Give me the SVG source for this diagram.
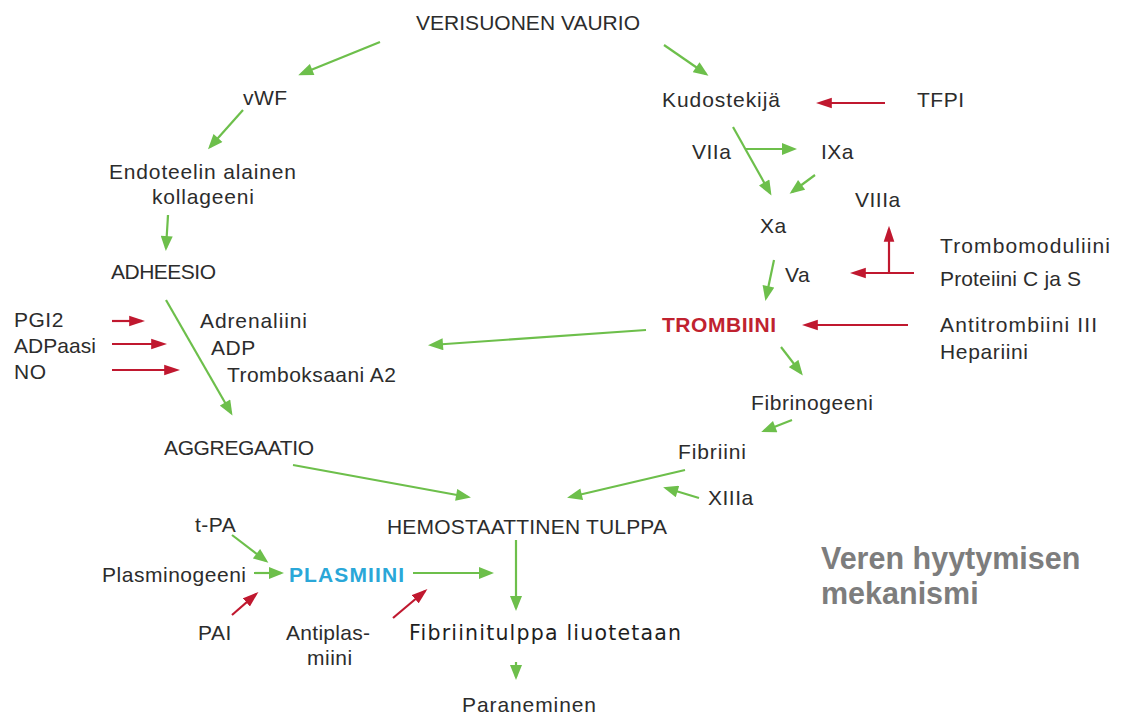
<svg xmlns="http://www.w3.org/2000/svg" width="1122" height="717" viewBox="0 0 1122 717">
<style>
  .t{font-family:"Liberation Sans",Arial,sans-serif;font-size:21px;fill:#2c2c2c}
  .s{letter-spacing:0.5px}
  .v{font-family:"DejaVu Sans",Verdana,sans-serif;font-size:20.5px;fill:#1e1e1e}
  .red{fill:#c0222f;font-weight:bold}
  .blue{fill:#2aa7d8;font-weight:bold}
  .title{font-family:"Liberation Sans",Arial,sans-serif;font-size:30.5px;font-weight:bold;fill:#7d7d7d}
  .g{stroke:#6dbf4b;stroke-width:2.2;fill:none;marker-end:url(#ag)}
  .r{stroke:#c0182f;stroke-width:2.2;fill:none;marker-end:url(#ar)}
</style>
<defs>
  <marker id="ag" markerUnits="userSpaceOnUse" markerWidth="16" markerHeight="12" refX="12" refY="6" orient="auto" viewBox="0 0 15 12">
    <path d="M0,0 L15,6 L0,12 z" fill="#6dbf4b"/>
  </marker>
  <marker id="ar" markerUnits="userSpaceOnUse" markerWidth="16" markerHeight="12" refX="12" refY="5" orient="auto" viewBox="0 0 15 10">
    <path d="M0,0 L15,5 L0,10 z" fill="#c0182f"/>
  </marker>
</defs>
<rect width="1122" height="717" fill="#fff"/>

<g id="connectors">
  <line class="g" x1="380" y1="42" x2="301" y2="74"/>
  <line class="g" x1="664" y1="45" x2="706" y2="74"/>
  <line class="g" x1="243" y1="110" x2="210" y2="147"/>
  <line class="g" x1="168" y1="215" x2="166" y2="248"/>
  <line class="g" x1="733" y1="127" x2="770" y2="193"/>
  <line class="g" x1="746" y1="149" x2="794" y2="149"/>
  <line class="g" x1="815" y1="175" x2="792" y2="192"/>
  <line class="g" x1="774" y1="260" x2="766" y2="298"/>
  <line class="g" x1="646" y1="330" x2="431" y2="345"/>
  <line class="g" x1="781" y1="347" x2="801" y2="373"/>
  <line class="g" x1="792" y1="420" x2="764" y2="431"/>
  <line class="g" x1="166" y1="300" x2="231" y2="413"/>
  <line class="g" x1="293" y1="465" x2="468" y2="497"/>
  <line class="g" x1="685" y1="470" x2="570" y2="497"/>
  <line class="g" x1="699" y1="498" x2="666" y2="488"/>
  <line class="g" x1="232" y1="535" x2="266" y2="561"/>
  <line class="g" x1="254" y1="573" x2="281" y2="573"/>
  <line class="g" x1="413" y1="573" x2="491" y2="573"/>
  <line class="g" x1="516" y1="540" x2="516" y2="608"/>
  <line class="g" x1="516" y1="662" x2="516" y2="677"/>
  <line class="r" x1="885" y1="103" x2="819" y2="103"/>
  <line class="r" x1="889" y1="273" x2="889" y2="229"/>
  <line class="r" x1="914" y1="273" x2="853" y2="273"/>
  <line class="r" x1="908" y1="325" x2="805" y2="325"/>
  <line class="r" x1="112" y1="321" x2="142" y2="321"/>
  <line class="r" x1="112" y1="344" x2="164" y2="344"/>
  <line class="r" x1="112" y1="370" x2="177" y2="370"/>
  <line class="r" x1="232" y1="615" x2="256" y2="594"/>
  <line class="r" x1="393" y1="618" x2="425" y2="591"/>
</g>

<g id="n-vaurio"><text class="t" x="416" y="30" textLength="224" lengthAdjust="spacing">VERISUONEN VAURIO</text></g>
<g id="n-vwf"><text class="t s" x="243" y="105">vWF</text></g>
<g id="n-kudostekija"><text class="t" x="662" y="107" textLength="118" lengthAdjust="spacing">Kudostekijä</text></g>
<g id="n-tfpi"><text class="t s" x="917" y="107">TFPI</text></g>
<g id="n-endoteeli">
  <text class="t" x="109" y="179" textLength="187" lengthAdjust="spacing">Endoteelin alainen</text>
  <text class="t" x="152" y="204" textLength="102" lengthAdjust="spacing">kollageeni</text>
</g>
<g id="n-viia"><text class="t s" x="692" y="159">VIIa</text></g>
<g id="n-ixa"><text class="t s" x="821" y="159">IXa</text></g>
<g id="n-viiia"><text class="t s" x="855" y="207">VIIIa</text></g>
<g id="n-xa"><text class="t s" x="760" y="233">Xa</text></g>
<g id="n-trombomoduliini">
  <text class="t" x="940" y="253" textLength="170" lengthAdjust="spacing">Trombomoduliini</text>
  <text class="t" x="940" y="286" textLength="141" lengthAdjust="spacing">Proteiini C ja S</text>
</g>
<g id="n-va"><text class="t s" x="785" y="282">Va</text></g>
<g id="n-adheesio"><text class="t" x="111" y="279" textLength="105" lengthAdjust="spacing">ADHEESIO</text></g>
<g id="n-trombiini"><text class="t red" x="662" y="332" textLength="114" lengthAdjust="spacing">TROMBIINI</text></g>
<g id="n-antitrombiini">
  <text class="t" x="940" y="332" textLength="157" lengthAdjust="spacing">Antitrombiini III</text>
  <text class="t" x="940" y="359" textLength="88" lengthAdjust="spacing">Hepariini</text>
</g>
<g id="n-inhibitors">
  <text class="t s" x="14" y="327">PGI2</text>
  <text class="t" x="14" y="353" textLength="82" lengthAdjust="spacing">ADPaasi</text>
  <text class="t s" x="14" y="379">NO</text>
</g>
<g id="n-agonists">
  <text class="t" x="200" y="328" textLength="107" lengthAdjust="spacing">Adrenaliini</text>
  <text class="t s" x="211" y="355">ADP</text>
  <text class="t" x="227" y="382" textLength="169" lengthAdjust="spacing">Tromboksaani A2</text>
</g>
<g id="n-fibrinogeeni"><text class="t" x="751" y="410" textLength="122" lengthAdjust="spacing">Fibrinogeeni</text></g>
<g id="n-aggregaatio"><text class="t" x="164" y="455" textLength="150" lengthAdjust="spacing">AGGREGAATIO</text></g>
<g id="n-fibriini"><text class="t" x="678" y="459" textLength="68" lengthAdjust="spacing">Fibriini</text></g>
<g id="n-xiiia"><text class="t s" x="708" y="505">XIIIa</text></g>
<g id="n-hemostaattinen"><text class="t" x="387" y="534" textLength="280" lengthAdjust="spacing">HEMOSTAATTINEN TULPPA</text></g>
<g id="n-tpa"><text class="t s" x="195" y="532">t-PA</text></g>
<g id="n-plasminogeeni"><text class="t" x="102" y="582" textLength="144" lengthAdjust="spacing">Plasminogeeni</text></g>
<g id="n-plasmiini"><text class="t blue" x="289" y="582" textLength="115" lengthAdjust="spacing">PLASMIINI</text></g>
<g id="n-pai"><text class="t s" x="198" y="640">PAI</text></g>
<g id="n-antiplasmiini">
  <text class="t" x="286" y="640" textLength="84" lengthAdjust="spacing">Antiplas-</text>
  <text class="t s" x="307" y="665">miini</text>
</g>
<g id="n-fibriinitulppa"><text class="v" x="409" y="640" textLength="272" lengthAdjust="spacing">Fibriinitulppa liuotetaan</text></g>
<g id="n-paraneminen"><text class="t" x="462" y="712" textLength="134" lengthAdjust="spacing">Paraneminen</text></g>
<g id="title">
  <text class="title" x="821" y="569">Veren hyytymisen</text>
  <text class="title" x="821" y="604">mekanismi</text>
</g>
</svg>
